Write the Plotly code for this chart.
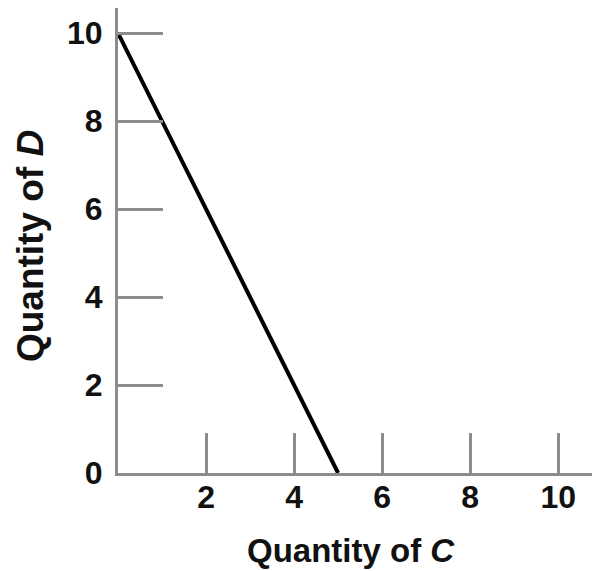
import plotly.graph_objects as go

# Budget line data
qty_c = [0, 5]
qty_d = [10, 0]

x_ticks = [2, 4, 6, 8, 10]
y_ticks = [0, 2, 4, 6, 8, 10]

fig = go.Figure()
fig.add_trace(go.Scatter(x=qty_c, y=qty_d, mode="lines",
                         line=dict(color="black", width=4),
                         showlegend=False, hoverinfo="skip"))

FAM = "Liberation Sans, Arial, sans-serif"
axis_font = dict(family=FAM, size=32, color="#111111", weight="bold")
GRAY = "#8c8c8c"

fig.update_layout(
    width=592, height=563,
    margin=dict(l=110, r=0, t=0, b=98),
    paper_bgcolor="white", plot_bgcolor="white",
    xaxis=dict(range=[0, 10.95], tickvals=x_ticks, ticktext=[str(v) for v in x_ticks],
               ticks="inside", ticklen=40, tickwidth=2.5, tickcolor=GRAY,
               showline=True, linecolor=GRAY, linewidth=3,
               showgrid=False, zeroline=False, tickfont=axis_font,
               ticklabelstandoff=-6),
    yaxis=dict(range=[0, 10.57], tickvals=y_ticks, ticktext=[str(v) for v in y_ticks],
               ticks="inside", ticklen=45, tickwidth=2.5, tickcolor=GRAY,
               showline=True, linecolor=GRAY, linewidth=3,
               showgrid=False, zeroline=False, tickfont=axis_font,
               ticklabelstandoff=6),
    annotations=[
        dict(text="<b>Quantity of <i>C</i></b>", xref="paper", yref="paper",
             x=0.483, y=0, yshift=-77, xanchor="center", yanchor="middle", showarrow=False,
             font=dict(family=FAM, size=33, color="#111111")),
        dict(text="<b>Quantity of <i>D</i></b>", xref="paper", yref="paper",
             x=0, xshift=-88, y=0.488, xanchor="center", yanchor="middle",
             textangle=-90, showarrow=False,
             font=dict(family=FAM, size=37, color="#111111")),
    ],
)

fig.write_html("out.html")
